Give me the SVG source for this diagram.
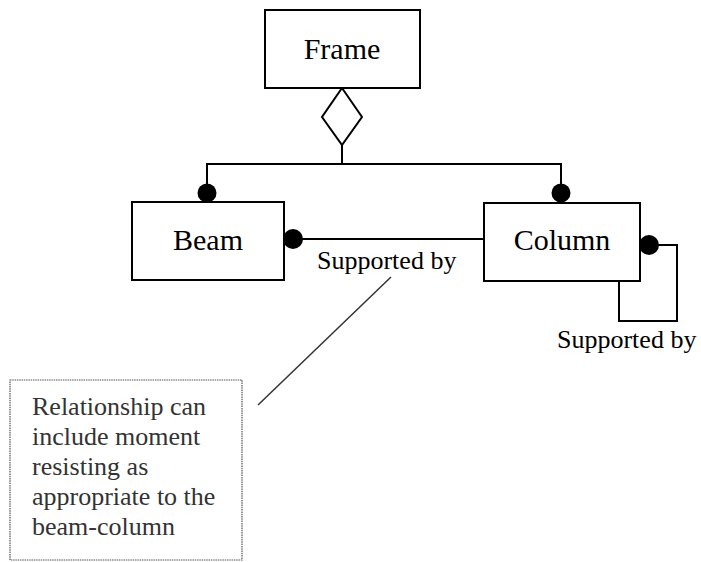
<svg xmlns="http://www.w3.org/2000/svg" width="701" height="562" viewBox="0 0 701 562">
<style>
.box{fill:#fff;stroke:#000;stroke-width:2}
.lbl{font-family:"Liberation Serif","Times New Roman",serif;font-size:30px;fill:#000;text-anchor:middle}
.rel{font-family:"Liberation Serif","Times New Roman",serif;font-size:26px;fill:#000}
.ln{fill:none;stroke:#000;stroke-width:2}
.dot{fill:#000}
.note{fill:#fff;stroke:#555;stroke-width:1.2;stroke-dasharray:1.5 0.8}
.ntxt{font-family:"Liberation Serif","Times New Roman",serif;font-size:26px;fill:#333}
</style>
<rect width="701" height="562" fill="#fff"/>
<g id="connectors">
<polyline class="ln" points="342,145 342,164"/>
<polyline class="ln" points="207,184 207,164 561,164 561,184"/>
<polyline class="ln" points="301,239 484,239"/>
<polyline class="ln" points="658,245 677,245 677,321 619,321 619,281"/>
<line x1="391" y1="277" x2="258" y2="405" stroke="#333" stroke-width="1.5"/>
<polygon class="ln" points="342,88 362,117 342,145 322,117" fill="#fff"/>
<text class="rel" x="317" y="269">Supported by</text>
<text class="rel" x="557" y="348">Supported by</text>
</g>
<g id="frame">
<rect class="box" x="265" y="10" width="155" height="78"/>
<text class="lbl" x="342" y="59">Frame</text>
</g>
<g id="beam">
<rect class="box" x="132" y="202" width="152" height="78"/>
<text class="lbl" x="208" y="250">Beam</text>
</g>
<g id="column">
<rect class="box" x="484" y="203" width="156" height="78"/>
<text class="lbl" x="562" y="250">Column</text>
</g>
<g id="markers">
<circle class="dot" cx="207" cy="193" r="9.5"/>
<circle class="dot" cx="561" cy="193" r="9.5"/>
<circle class="dot" cx="293" cy="239" r="10"/>
<circle class="dot" cx="649" cy="245" r="10"/>
</g>
<g id="note">
<rect class="note" x="10" y="380" width="232" height="180"/>
<text class="ntxt" x="32" y="415">Relationship can</text>
<text class="ntxt" x="32" y="445">include moment</text>
<text class="ntxt" x="32" y="475">resisting as</text>
<text class="ntxt" x="32" y="505">appropriate to the</text>
<text class="ntxt" x="32" y="535">beam-column</text>
</g>
</svg>
